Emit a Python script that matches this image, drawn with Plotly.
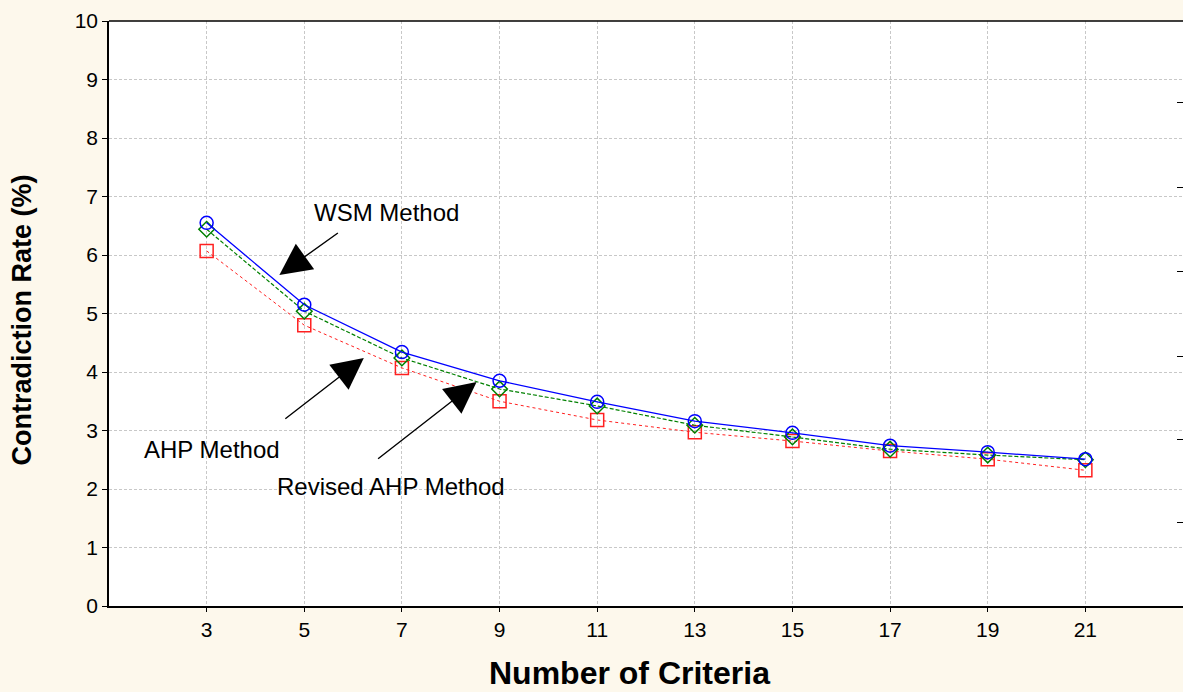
import plotly.graph_objects as go

criteria = [3, 5, 7, 9, 11, 13, 15, 17, 19, 21]
wsm = [6.55, 5.15, 4.34, 3.85, 3.49, 3.16, 2.96, 2.74, 2.63, 2.51]
ahp = [6.44, 5.04, 4.24, 3.71, 3.42, 3.09, 2.89, 2.68, 2.58, 2.50]
revised = [6.07, 4.80, 4.07, 3.50, 3.18, 2.97, 2.82, 2.65, 2.51, 2.32]
y_ticks = list(range(0, 11))
right_ticks = [1.42, 2.84, 4.27, 5.71, 7.16, 8.6]

FONT = "Liberation Sans, Arial, sans-serif"

fig = go.Figure()
fig.add_trace(go.Scatter(x=criteria, y=revised, mode="lines+markers", name="Revised AHP",
                         line=dict(color="#ff2020", width=1, dash="dot"),
                         marker=dict(symbol="square-open", size=13, color="#ff2020", line=dict(width=1.5))))
fig.add_trace(go.Scatter(x=criteria, y=ahp, mode="lines+markers", name="AHP",
                         line=dict(color="#008000", width=1.2, dash="4px,2px"),
                         marker=dict(symbol="diamond-open", size=12, color="#008000", line=dict(width=1.5))))
fig.add_trace(go.Scatter(x=criteria, y=wsm, mode="lines+markers", name="WSM",
                         line=dict(color="#0000ff", width=1.3),
                         marker=dict(symbol="circle-open", size=13, color="#0000ff", line=dict(width=1.5))))
# invisible trace on secondary axis for the right-side ticks
fig.add_trace(go.Scatter(x=[criteria[0]], y=[0], yaxis="y2", mode="markers",
                         marker=dict(opacity=0), showlegend=False, hoverinfo="skip"))

arrow = dict(showarrow=True, arrowhead=2, arrowsize=4.5, arrowwidth=1.4, arrowcolor="black",
             axref="pixel", ayref="pixel", text="")
fig.add_annotation(x=4.49, y=5.66, ax=60, ay=-43, **arrow)
fig.add_annotation(x=6.22, y=4.24, ax=-80, ay=62, **arrow)
fig.add_annotation(x=8.53, y=3.83, ax=-100, ay=78, **arrow)

tfont = dict(family=FONT, size=24, color="black")
fig.add_annotation(x=6.69, y=6.73, text="WSM Method", showarrow=False, font=tfont)
fig.add_annotation(x=3.12, y=2.67, text="AHP Method", showarrow=False, font=tfont)
fig.add_annotation(x=6.78, y=2.05, text="Revised AHP Method", showarrow=False, font=tfont)

# axis titles
fig.add_annotation(xref="paper", yref="paper", x=0.485, y=-0.115, yanchor="middle",
                   text="<b>Number of Criteria</b>", showarrow=False,
                   font=dict(family=FONT, size=32, color="black"))
fig.add_annotation(xref="paper", yref="paper", x=-0.0815, xanchor="center", y=0.489,
                   text="<b>Contradiction Rate (%)</b>", showarrow=False, textangle=-90,
                   font=dict(family=FONT, size=27, color="black"))

grid = dict(showgrid=True, gridcolor="#c8c8c8", griddash="3px,2px", gridwidth=1)
fig.update_layout(
    width=1183, height=692,
    margin=dict(l=109, r=0, t=21, b=86),
    paper_bgcolor="#fdf8ec", plot_bgcolor="white",
    showlegend=False,
    font=dict(family=FONT, color="black"),
    xaxis=dict(range=[1, 23], tickvals=criteria, ticks="outside", ticklen=4, tickcolor="black",
               showline=True, linecolor="black", linewidth=1.5, mirror=False, zeroline=False,
               tickfont=dict(size=21, family=FONT), **grid),
    yaxis=dict(range=[0, 10], tickvals=y_ticks, ticks="outside", ticklen=5, tickcolor="black",
               showline=True, linecolor="black", linewidth=1.5, zeroline=False,
               tickfont=dict(size=21, family=FONT), **grid),
    yaxis2=dict(range=[0, 10], overlaying="y", side="right", tickvals=right_ticks, ticks="inside",
                ticklen=6, tickcolor="black", showticklabels=False, showgrid=False, zeroline=False,
                showline=False),
)
fig.add_shape(type="line", xref="paper", yref="paper", x0=0, x1=1, y0=1, y1=1,
              line=dict(color="black", width=1.5))

fig.write_html("out.html", config={"displayModeBar": False},
               post_script="document.body.style.margin='0';document.documentElement.style.overflow='hidden';")
